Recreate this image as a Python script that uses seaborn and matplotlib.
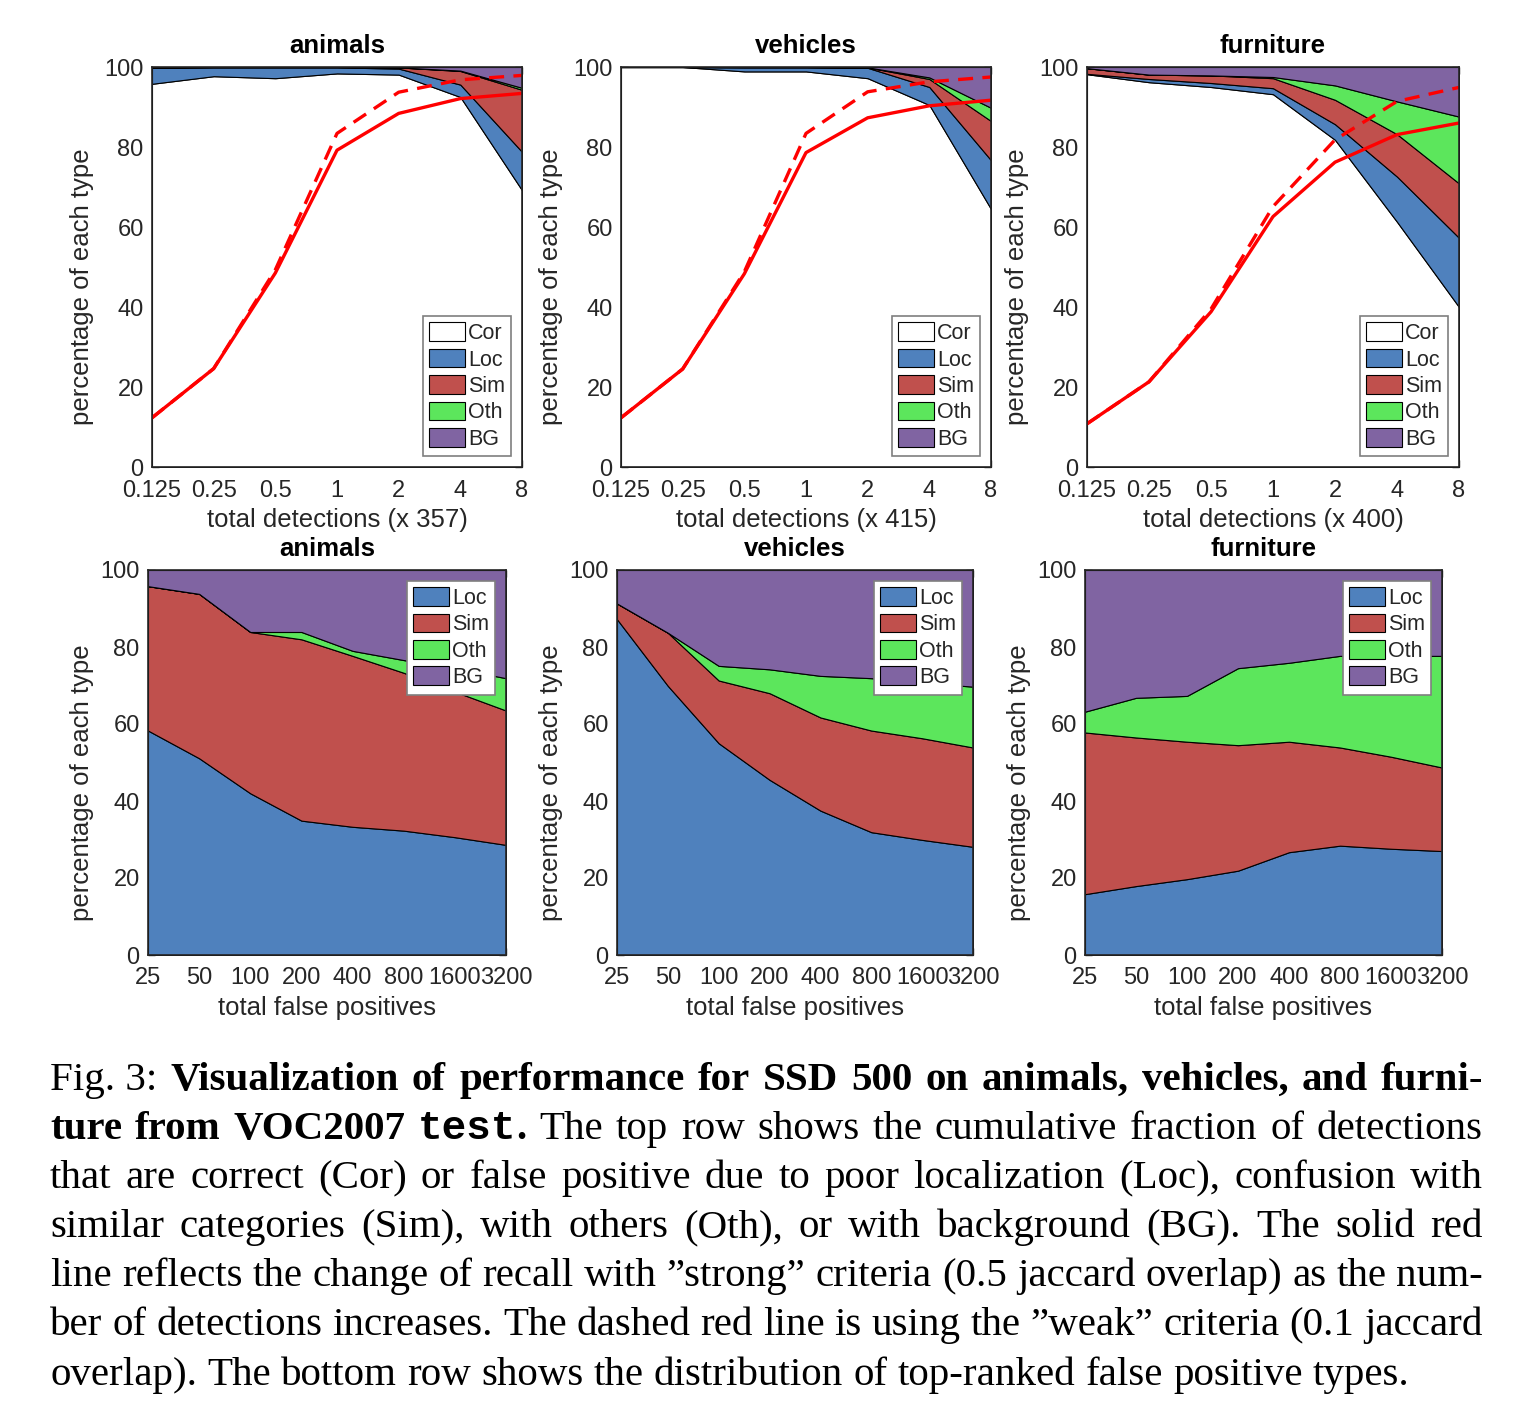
import matplotlib
matplotlib.use("Agg")
import matplotlib.pyplot as plt
import seaborn as sns
from matplotlib.patches import Patch
from matplotlib.ticker import NullLocator

# ---- datos ----
detections = [0.125, 0.25, 0.5, 1, 2, 4, 8]
detection_labels = ["0.125", "0.25", "0.5", "1", "2", "4", "8"]
false_positives = [25, 50, 100, 200, 400, 800, 1600, 3200]
fp_labels = ["25", "50", "100", "200", "400", "800", "1600", "3200"]
categories = ["animals", "vehicles", "furniture"]
det_scale = [357, 415, 400]

# fila superior: límites acumulados (Cor, Cor+Loc, +Sim, +Oth); BG llega hasta 100
top_cor = {
    "animals":   [95.8, 97.7, 97.2, 98.4, 98.1, 92.5, 69.2],
    "vehicles":  [100.0, 100.0, 98.9, 98.9, 97.2, 90.5, 64.5],
    "furniture": [98.2, 96.2, 95.0, 93.2, 81.8, 61.3, 40.0],
}
top_loc = {
    "animals":   [99.8, 99.9, 99.9, 99.9, 99.6, 95.6, 78.8],
    "vehicles":  [100.0, 100.0, 99.9, 99.9, 99.8, 95.0, 76.7],
    "furniture": [98.3, 97.0, 96.0, 94.7, 85.7, 72.6, 57.3],
}
top_sim = {
    "animals":   [99.9, 100.0, 100.0, 100.0, 99.9, 99.0, 94.3],
    "vehicles":  [100.0, 100.0, 100.0, 100.0, 99.9, 97.0, 86.5],
    "furniture": [99.7, 98.1, 97.9, 97.2, 91.8, 83.2, 70.9],
}
top_oth = {
    "animals":   [100.0, 100.0, 100.0, 100.0, 99.9, 99.1, 94.8],
    "vehicles":  [100.0, 100.0, 100.0, 100.0, 99.9, 97.4, 89.8],
    "furniture": [99.7, 98.1, 97.9, 97.5, 95.4, 91.4, 87.6],
}
recall_strong = {
    "animals":   [12.3, 24.6, 48.5, 79.2, 88.4, 92.1, 93.4],
    "vehicles":  [12.3, 24.5, 48.3, 78.6, 87.3, 90.3, 91.7],
    "furniture": [10.8, 21.3, 38.8, 62.6, 76.2, 83.1, 86.0],
}
recall_weak = {
    "animals":   [12.3, 24.6, 49.3, 83.4, 93.7, 96.8, 97.9],
    "vehicles":  [12.3, 24.5, 48.8, 83.4, 93.8, 96.3, 97.5],
    "furniture": [10.8, 21.3, 39.5, 65.1, 81.8, 91.4, 94.9],
}

# fila inferior: límites acumulados (Loc, Loc+Sim, +Oth); BG hasta 100
fp_loc = {
    "animals":   [58.3, 51.1, 42.0, 34.9, 33.3, 32.3, 30.6, 28.6],
    "vehicles":  [87.2, 69.9, 55.0, 45.5, 37.5, 31.9, 29.9, 28.1],
    "furniture": [15.8, 17.9, 19.7, 21.9, 26.7, 28.4, 27.6, 27.0],
}
fp_sim = {
    "animals":   [95.8, 93.8, 83.9, 82.0, 77.7, 73.3, 68.4, 63.5],
    "vehicles":  [91.3, 83.7, 71.3, 68.0, 61.7, 58.3, 56.3, 53.9],
    "furniture": [57.8, 56.5, 55.4, 54.5, 55.4, 53.9, 51.5, 48.7],
}
fp_oth = {
    "animals":   [95.8, 93.8, 83.9, 83.9, 79.0, 76.6, 74.5, 71.9],
    "vehicles":  [91.3, 83.7, 75.1, 74.2, 72.5, 71.9, 70.7, 69.7],
    "furniture": [63.2, 66.8, 67.3, 74.5, 75.9, 77.7, 77.7, 77.7],
}

colores = {"Cor": "white", "Loc": "#4f81bd", "Sim": "#c0504d",
           "Oth": "#5ce65c", "BG": "#8064a2"}
gris = "#262626"

sns.set_style("ticks")
plt.rcParams["font.family"] = ["Liberation Sans", "DejaVu Sans"]

fig = plt.figure(figsize=(15.3, 14.06), dpi=100)

W, H = 1530.0, 1406.0
top_boxes = [(152, 522), (621, 991), (1087, 1459)]
bot_boxes = [(148, 506), (617, 973), (1085, 1442)]


def estilo_ejes(ax, ancho_px, alto_px, sep_px):
    ax.set_ylim(0, 100)
    ax.set_yticks([0, 20, 40, 60, 80, 100])
    ax.xaxis.set_minor_locator(NullLocator())
    ax.tick_params(direction="in", top=True, right=True, length=5, width=1,
                   color=gris, labelcolor=gris, labelsize=17)
    ax.tick_params(axis="y", pad=6)
    ax.tick_params(axis="x", pad=9)
    for s in ax.spines.values():
        s.set_color(gris)
        s.set_linewidth(1.2)
        s.set_zorder(10)
    ax.set_ylabel("percentage of each type", fontsize=18.5, color=gris, va="center")
    # en el original la etiqueta queda algo desplazada hacia abajo
    ax.yaxis.set_label_coords(-sep_px / ancho_px, 0.5 - 20 / alto_px)
    ax.set_facecolor("white")


def leyenda(ax, nombres, loc):
    handles = [Patch(facecolor=colores[n], edgecolor="black", linewidth=0.8) for n in nombres]
    leg = ax.legend(handles, nombres, loc=loc, fontsize=15.5, frameon=True, fancybox=False,
                    edgecolor="#7f7f7f", framealpha=1, handlelength=1.65, handleheight=0.95,
                    handletextpad=0.15, labelspacing=0.22, borderpad=0.3, borderaxespad=0.5)
    leg.get_frame().set_linewidth(1.2)
    leg.set_zorder(20)


# ---- fila superior ----
for i, cat in enumerate(categories):
    x0, x1 = top_boxes[i]
    ax = fig.add_axes([x0 / W, 1 - 467 / H, (x1 - x0) / W, 400 / H])
    capas = [([0] * 7, top_cor[cat], "Cor"),
             (top_cor[cat], top_loc[cat], "Loc"),
             (top_loc[cat], top_sim[cat], "Sim"),
             (top_sim[cat], top_oth[cat], "Oth"),
             (top_oth[cat], [100] * 7, "BG")]
    for lo, hi, n in capas:
        ax.fill_between(detections, lo, hi, facecolor=colores[n], edgecolor="black", linewidth=0.8)
    sns.lineplot(x=detections, y=recall_weak[cat], color="red", linewidth=2.4, ax=ax, zorder=5)
    ax.lines[-1].set_dashes((4.5, 2.8))
    sns.lineplot(x=detections, y=recall_strong[cat], color="red", linewidth=2.4, ax=ax, zorder=6)
    ax.set_xscale("log", base=2)
    ax.set_xlim(0.125, 8)
    ax.set_xticks(detections)
    ax.set_xticklabels(detection_labels)
    estilo_ejes(ax, x1 - x0, 400, 70)
    ax.set_xlabel(f"total detections (x {det_scale[i]})", fontsize=18.5, color=gris, labelpad=5)
    ax.set_title(cat, fontsize=18.5, fontweight="bold", color="black", pad=10)
    leyenda(ax, ["Cor", "Loc", "Sim", "Oth", "BG"], "lower right")

# ---- fila inferior ----
for i, cat in enumerate(categories):
    x0, x1 = bot_boxes[i]
    ax = fig.add_axes([x0 / W, 1 - 955 / H, (x1 - x0) / W, 385 / H])
    capas = [([0] * 8, fp_loc[cat], "Loc"),
             (fp_loc[cat], fp_sim[cat], "Sim"),
             (fp_sim[cat], fp_oth[cat], "Oth"),
             (fp_oth[cat], [100] * 8, "BG")]
    for lo, hi, n in capas:
        ax.fill_between(false_positives, lo, hi, facecolor=colores[n], edgecolor="black", linewidth=0.8)
    ax.set_xscale("log", base=2)
    ax.set_xlim(25, 3200)
    ax.set_xticks(false_positives)
    ax.set_xticklabels(fp_labels)
    estilo_ejes(ax, x1 - x0, 385, 66)
    ax.set_xlabel("total false positives", fontsize=18.5, color=gris, labelpad=5)
    ax.set_title(cat, fontsize=18.5, fontweight="bold", color="black", pad=10)
    leyenda(ax, ["Loc", "Sim", "Oth", "BG"], "upper right")

# ---- pie de figura (justificado) ----
estilos = {
    "reg": dict(family="Liberation Serif", size=29.5),
    "bold": dict(family="Liberation Serif", size=29.5, weight="bold"),
    "mono": dict(family="Liberation Mono", size=29.5, weight="bold"),
}
caption = [
    [("Fig.\u00a03: ", "reg"), ("Visualization of performance for SSD 500 on animals, vehicles, and furni-", "bold")],
    [("ture from VOC2007 ", "bold"), ("test", "mono"), (".", "bold"),
     (" The top row shows the cumulative fraction of detections", "reg")],
    [("that are correct (Cor) or false positive due to poor localization (Loc), confusion with", "reg")],
    [("similar categories (Sim), with others (Oth), or with background (BG). The solid red", "reg")],
    [("line reflects the change of recall with \u201dstrong\u201d criteria (0.5 jaccard overlap) as the num-", "reg")],
    [("ber of detections increases. The dashed red line is using the \u201dweak\u201d criteria (0.1 jaccard", "reg")],
    [("overlap). The bottom row shows the distribution of top-ranked false positive types.", "reg")],
]
baselines = [1090, 1139, 1188, 1237, 1286, 1335, 1385]
left_px, right_px = 50, 1483


def a_palabras(segmentos):
    palabras, actual = [], []
    for texto, st in segmentos:
        partes = texto.split(" ")
        for k, p in enumerate(partes):
            if k > 0 and actual:
                palabras.append(actual)
                actual = []
            if p:
                actual.append((p, st))
    if actual:
        palabras.append(actual)
    return palabras


renderer = fig.canvas.get_renderer()


def ancho(texto, st):
    t = fig.text(0, 0, texto, **estilos[st])
    w = t.get_window_extent(renderer).width
    t.remove()
    return w


for n, (segs, base) in enumerate(zip(caption, baselines)):
    palabras = a_palabras(segs)
    anchos = [[ancho(p, st) for p, st in pal] for pal in palabras]
    total = sum(sum(a) for a in anchos)
    if n < len(caption) - 1:
        hueco = (right_px - left_px - total) / (len(palabras) - 1)
    else:
        hueco = 10.2
    x = left_px
    for pal, an in zip(palabras, anchos):
        for (p, st), a in zip(pal, an):
            fig.text(x / W, 1 - base / H, p, va="baseline", ha="left", color="black", **estilos[st])
            x += a
        x += hueco

fig.savefig("out.png", dpi=100, facecolor="white")
